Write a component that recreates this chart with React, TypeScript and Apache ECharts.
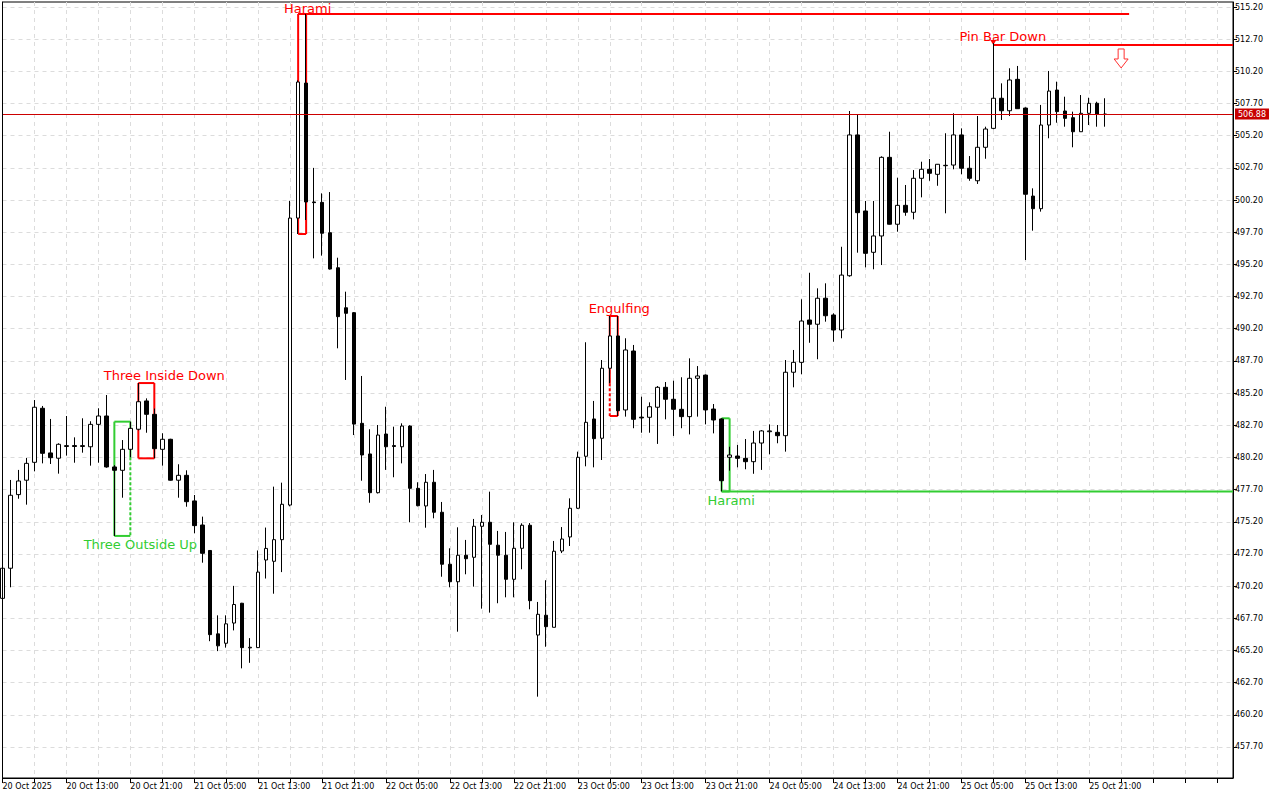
import React, { useEffect, useRef } from "react";
import * as echarts from "echarts";

// ---- time axis ----
const xTickLabels = [
  "20 Oct 2025", "20 Oct 13:00", "20 Oct 21:00", "21 Oct 05:00", "21 Oct 13:00",
  "21 Oct 21:00", "22 Oct 05:00", "22 Oct 13:00", "22 Oct 21:00", "23 Oct 05:00",
  "23 Oct 13:00", "23 Oct 21:00", "24 Oct 05:00", "24 Oct 13:00", "24 Oct 21:00",
  "25 Oct 05:00", "25 Oct 13:00", "25 Oct 21:00",
];
const barsPerLabel = 8;
const totalSlots = 155;

// ---- price axis ticks ----
const yTicks = [
  457.7, 460.2, 462.7, 465.2, 467.7, 470.2, 472.7, 475.2, 477.7, 480.2, 482.7, 485.2,
  487.7, 490.2, 492.7, 495.2, 497.7, 500.2, 502.7, 505.2, 507.7, 510.2, 512.7, 515.2,
];
const yMin = 455.29;
const yMax = 515.59;

// ---- OHLC (hourly bars) ----
const opens = [
  469.25, 471.59, 477.31, 478.43, 479.82, 484.02, 480.55, 480.14, 481.05, 481.12,
  481.05, 481.03, 482.77, 483.42, 479.46, 479.2, 480.83, 482.39, 484.59, 483.55,
  480.83, 481.61, 478.43, 478.81, 476.82, 474.95, 472.97, 466.49, 465.76, 467.33,
  468.87, 465.4, 465.42, 472.23, 472.13, 473.81, 476.5, 498.8, 509.29, 500.05,
  500.02, 497.66, 494.94, 491.83, 491.45, 482.85, 480.47, 477.46, 482.02, 481.12,
  481.03, 482.64, 477.8, 476.43, 478.27, 475.94, 471.9, 470.54, 472.6, 472.44,
  474.85, 475.16, 473.38, 472.6, 470.73, 473.14, 474.93, 466.4, 467.94, 467.0,
  472.93, 474.02, 476.25, 480.29, 483.19, 481.69, 487.13, 489.64, 483.89, 488.47,
  483.33, 483.32, 484.1, 485.65, 484.72, 483.94, 483.37, 486.35, 486.6, 483.96,
  483.19, 480.21, 480.31, 480.13, 479.87, 481.32, 482.2, 482.15, 481.89, 486.82,
  487.59, 490.88, 490.55, 492.57, 491.27, 490.1, 494.32, 505.26, 499.35, 496.14,
  497.41, 503.52, 498.32, 499.79, 499.25, 501.89, 502.59, 502.2, 502.87, 502.92,
  505.26, 502.67, 501.7, 504.3, 505.77, 508.11, 507.14, 509.58, 507.35, 500.51,
  499.53, 506.03, 508.75, 507.12, 506.6, 505.51, 506.94, 507.72, 506.86,
];
const highs = [
  471.8, 478.45, 479.23, 480.16, 484.66, 484.2, 483.19, 481.3, 483.42, 481.76,
  483.24, 483.01, 484.02, 485.05, 479.6, 481.55, 482.98, 485.98, 484.79, 484.0,
  482.08, 481.65, 479.67, 479.2, 477.28, 475.6, 473.0, 467.93, 467.93, 470.22,
  468.9, 466.16, 472.97, 474.75, 477.93, 478.24, 500.14, 509.5, 514.66, 502.7,
  500.72, 500.82, 495.72, 493.08, 491.5, 486.53, 482.39, 482.72, 484.14, 482.59,
  482.85, 482.7, 478.27, 478.91, 479.23, 476.74, 473.14, 474.77, 473.79, 475.42,
  475.73, 477.54, 474.49, 474.41, 475.16, 475.08, 475.1, 468.97, 470.66, 473.71,
  474.79, 477.02, 480.65, 489.15, 484.59, 487.77, 491.19, 491.19, 489.46, 488.94,
  484.92, 484.48, 485.75, 486.06, 486.16, 486.43, 487.9, 487.3, 486.65, 484.35,
  483.24, 481.03, 481.17, 481.63, 482.26, 482.33, 482.77, 482.72, 487.77, 488.55,
  492.49, 494.55, 493.34, 493.73, 491.4, 496.57, 507.12, 506.81, 500.13, 500.13,
  503.6, 505.51, 501.94, 501.37, 502.53, 503.18, 503.39, 503.0, 505.39, 506.94,
  505.77, 503.62, 506.73, 505.9, 512.4, 509.27, 510.44, 510.62, 507.4, 501.11,
  507.59, 510.23, 509.4, 508.23, 507.07, 508.36, 508.15, 507.84, 508.11,
];
const lows = [
  469.1, 470.11, 476.99, 476.53, 479.12, 479.74, 479.69, 478.94, 480.34, 479.79,
  480.57, 479.56, 479.79, 479.4, 474.1, 477.07, 480.21, 482.3, 482.12, 480.13,
  479.56, 478.4, 477.07, 476.37, 474.31, 472.02, 465.92, 465.15, 465.42, 466.76,
  463.81, 464.24, 465.4, 470.79, 469.61, 471.29, 476.4, 497.56, 498.65, 495.67,
  495.88, 494.8, 488.68, 486.22, 481.94, 478.39, 476.68, 477.4, 479.23, 478.66,
  479.74, 475.16, 476.4, 474.74, 475.47, 470.93, 470.11, 466.66, 471.12, 470.16,
  468.45, 468.14, 468.87, 469.33, 469.33, 471.51, 468.4, 461.61, 465.49, 467.0,
  472.77, 473.32, 476.2, 479.51, 479.43, 480.0, 485.96, 483.42, 483.37, 482.47,
  482.12, 482.12, 481.25, 483.16, 481.87, 482.47, 481.99, 483.37, 482.77, 482.07,
  477.56, 479.17, 479.43, 479.28, 478.93, 479.23, 480.44, 481.3, 480.65, 485.65,
  486.66, 489.11, 487.83, 490.75, 489.19, 489.46, 494.24, 496.11, 494.97, 494.82,
  495.15, 498.3, 497.74, 498.98, 498.7, 500.41, 501.7, 501.31, 499.17, 502.59,
  502.2, 501.7, 501.45, 503.41, 505.7, 506.42, 506.73, 507.3, 495.54, 497.82,
  499.3, 505.0, 506.21, 505.9, 504.3, 505.5, 506.03, 505.9, 505.9,
];
const closes = [
  471.59, 477.26, 478.37, 479.74, 484.1, 480.52, 480.18, 481.22, 481.12, 481.05,
  481.12, 482.77, 483.42, 479.46, 479.2, 480.83, 482.46, 484.53, 483.55, 480.88,
  481.61, 478.43, 478.81, 476.76, 474.9, 472.75, 466.43, 465.56, 467.27, 468.77,
  465.42, 465.45, 471.29, 473.13, 473.81, 476.56, 498.8, 509.37, 500.05, 500.0,
  497.62, 494.84, 491.14, 491.4, 482.79, 480.39, 477.46, 481.94, 481.03, 481.05,
  482.64, 477.8, 476.45, 478.27, 475.94, 471.9, 470.54, 472.6, 472.33, 474.85,
  475.16, 473.45, 472.6, 470.73, 473.14, 474.93, 469.07, 468.01, 467.05, 472.91,
  473.86, 476.25, 480.21, 482.93, 481.66, 487.13, 489.64, 483.83, 488.55, 483.16,
  483.27, 484.14, 485.65, 484.72, 483.94, 483.37, 486.35, 486.53, 483.89, 483.11,
  478.39, 480.39, 480.13, 479.87, 481.32, 482.26, 482.26, 481.89, 486.82, 487.59,
  490.8, 490.55, 492.57, 491.21, 490.1, 494.37, 505.26, 499.22, 496.06, 497.41,
  503.52, 498.32, 499.79, 499.25, 501.89, 502.59, 502.28, 502.98, 502.9, 505.26,
  502.67, 501.89, 504.3, 505.72, 508.11, 507.14, 509.53, 507.3, 500.65, 499.53,
  506.03, 508.67, 507.07, 506.55, 505.51, 506.94, 507.72, 506.86, 506.88,
];
const lastPrice = 506.88;

// ---- candlestick pattern annotations ----
const RED = "#ff0000";
const GREEN = "#32cd32";
type Pattern = {
  label: string;
  color: string;
  from: number;
  to: number;
  high: number;
  low: number;
  textSide: "top" | "bottom";
  textDx: number;
  dashEdge?: "left" | "right";
  dashFrom?: number;
  extendTo?: number;
  extendAt?: "high" | "low";
  pin?: boolean;
};
const patterns: Pattern[] = [
  { label: "Harami", color: RED, from: 37, to: 38, high: 514.66, low: 497.56, textSide: "top", textDx: 9.5, extendTo: 141, extendAt: "high" },
  { label: "Three Inside Down", color: RED, from: 17, to: 19, high: 485.98, low: 480.13, textSide: "top", textDx: 26 },
  { label: "Three Outside Up", color: GREEN, from: 14, to: 16, high: 482.98, low: 474.1, textSide: "bottom", textDx: 26, dashEdge: "right", dashFrom: 480.21 },
  { label: "Engulfing", color: RED, from: 76, to: 77, high: 491.19, low: 483.42, textSide: "top", textDx: 9.5, dashEdge: "left", dashFrom: 485.96 },
  { label: "Harami", color: GREEN, from: 90, to: 91, high: 483.24, low: 477.56, textSide: "bottom", textDx: 9.5, extendTo: 154, extendAt: "low" },
  { label: "Pin Bar Down", color: RED, from: 124, to: 124, high: 512.25, low: 512.25, textSide: "top", textDx: 9.5, extendTo: 154, extendAt: "high", pin: true },
];
const signalArrow = { bar: 140, price: 512.25 };

const FONT = "DejaVu Sans";

function buildOption() {
  const categories: string[] = [];
  for (let i = 0; i < totalSlots; i++) {
    const k = i / barsPerLabel;
    categories.push(i % barsPerLabel === 0 && k < xTickLabels.length ? xTickLabels[k] : "");
  }
  const candles = opens.map((o, i) => [o, closes[i], lows[i], highs[i]]);

  const renderPattern = (params: any, api: any) => {
    const p = patterns[params.dataIndex];
    const [x0, yH] = api.coord([p.from, p.high]);
    const [x1, yL] = api.coord([p.to, p.low]);
    const children: any[] = [];
    const seg = (xa: number, ya: number, xb: number, yb: number, dashed = false, w = 2) =>
      children.push({
        type: "line",
        shape: { x1: xa, y1: ya, x2: xb, y2: yb },
        style: { stroke: p.color, lineWidth: w, lineDash: dashed ? [3, 2] : null },
      });
    if (!p.pin) {
      seg(x0, yH, x1, yH);
      seg(x0, yL, x1, yL);
      const yDash = p.dashFrom != null ? api.coord([p.from, p.dashFrom])[1] : yL;
      if (p.dashEdge === "left") {
        seg(x0, yH, x0, yDash);
        seg(x0, yDash, x0, yL, true);
      } else seg(x0, yH, x0, yL);
      if (p.dashEdge === "right") {
        seg(x1, yH, x1, yDash);
        seg(x1, yDash, x1, yL, true);
      } else seg(x1, yH, x1, yL);
    } else {
      children.push({
        type: "polygon",
        shape: { points: [[x0 - 3, yH - 5], [x0 + 3, yH - 5], [x0, yH]] },
        style: { fill: p.color },
      });
    }
    if (p.extendTo != null) {
      const yE = p.extendAt === "low" ? yL : yH;
      const xE = api.coord([p.extendTo, p.high])[0];
      seg(x0, yE, xE, yE);
    }
    const ty = p.textSide === "top" ? Math.max(yH - 8, 8) : yL + 9;
    children.push({
      type: "text",
      x: x0 + p.textDx,
      y: ty,
      style: {
        text: p.label,
        fill: p.color,
        fontSize: 13,
        fontFamily: FONT,
        align: "center",
        verticalAlign: "middle",
      },
    });
    return { type: "group", children };
  };

  const renderArrow = (_params: any, api: any) => {
    const [cx, cy] = api.coord([signalArrow.bar, signalArrow.price]);
    const t = cy + 4;
    const pts = [
      [cx - 3, t], [cx + 3, t], [cx + 3, t + 10], [cx + 7, t + 10],
      [cx, t + 19], [cx - 7, t + 10], [cx - 3, t + 10],
    ];
    return {
      type: "polygon",
      shape: { points: pts },
      style: { fill: "#ffffff", stroke: "#ff3030", lineWidth: 1 },
    };
  };

  return {
    animation: false,
    backgroundColor: "#ffffff",
    grid: {
      left: 2.5,
      right: 47,
      top: 2,
      bottom: 22,
      show: true,
      borderColor: "#000000",
      borderWidth: 1,
      backgroundColor: "#ffffff",
      outerBoundsMode: "none",
      containLabel: false,
    },
    xAxis: {
      type: "category",
      data: categories,
      boundaryGap: false,
      axisLine: { show: true, lineStyle: { color: "#000000", width: 1 } },
      axisTick: { show: true, interval: 3, length: 5, lineStyle: { color: "#000000" } },
      axisLabel: {
        interval: 7,
        align: "left",
        margin: 4,
        color: "#000000",
        fontSize: 8,
        fontFamily: FONT,
      },
      splitLine: { show: true, interval: 3, lineStyle: { color: "#dcdcdc", type: [4, 4] } },
    },
    yAxis: [
      {
        type: "value",
        position: "right",
        min: yMin,
        max: yMax,
        axisLine: { show: true, lineStyle: { color: "#000000", width: 1 } },
        axisTick: { show: true, length: 4, customValues: yTicks, lineStyle: { color: "#000000" } },
        axisLabel: {
          customValues: yTicks,
          formatter: (v: number) => v.toFixed(2),
          color: "#000000",
          fontSize: 8,
          fontFamily: FONT,
          margin: 2,
        },
        splitLine: { show: true, lineStyle: { color: "#dcdcdc", type: [4, 4] } },
      },
      {
        type: "value",
        position: "left",
        min: yMin,
        max: yMax,
        z: 5,
        axisLine: { show: true, lineStyle: { color: "#000000", width: 1 } },
        axisTick: { show: false },
        axisLabel: { show: false },
        splitLine: { show: false },
      },
    ],
    series: [
      {
        type: "custom",
        z: 1,
        silent: true,
        clip: false,
        renderItem: renderPattern,
        data: patterns.map((p) => [p.from, p.high]),
      },
      {
        type: "custom",
        z: 1,
        silent: true,
        clip: false,
        renderItem: renderArrow,
        data: [[signalArrow.bar, signalArrow.price]],
      },
      {
        type: "candlestick",
        z: 3,
        data: candles,
        barWidth: 4,
        clip: false,
        silent: true,
        itemStyle: {
          color: "#ffffff",
          color0: "#000000",
          borderColor: "#000000",
          borderColor0: "#000000",
          borderWidth: 1,
        },
        markLine: {
          silent: true,
          symbol: ["none", "none"],
          lineStyle: { color: "#cc0000", width: 1, type: "solid" },
          label: {
            show: true,
            position: "end",
            distance: 2,
            formatter: lastPrice.toFixed(2),
            color: "#ffffff",
            backgroundColor: "#c80000",
            padding: [2, 3, 1, 3],
            fontSize: 8,
            fontFamily: FONT,
          },
          data: [{ yAxis: lastPrice }],
        },
      },
    ],
  };
}

export default function App() {
  const ref = useRef<HTMLDivElement>(null);
  useEffect(() => {
    document.body.style.margin = "0";
    const chart = echarts.init(ref.current!, null, { renderer: "svg" });
    chart.setOption(buildOption() as any);
    return () => chart.dispose();
  }, []);
  return <div ref={ref} style={{ width: 1280, height: 800 }} />;
}
